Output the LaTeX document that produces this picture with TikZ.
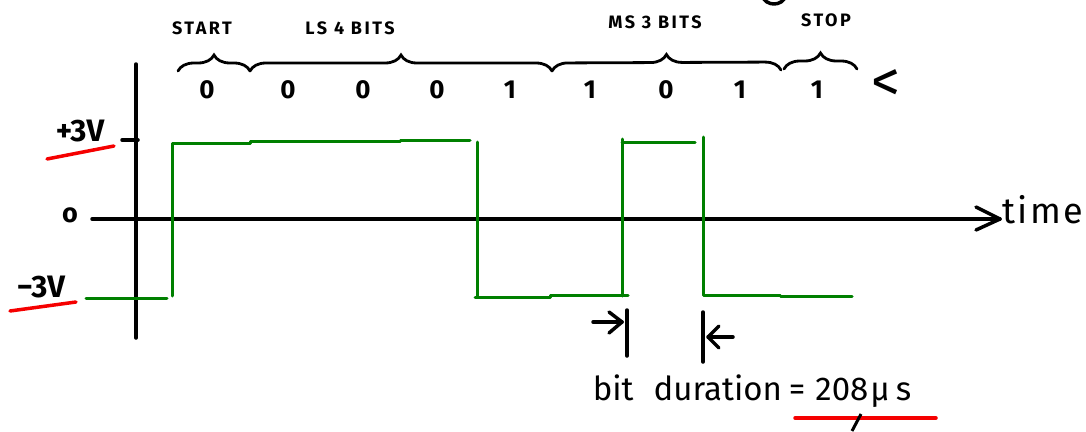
\documentclass[tikz,border=0pt]{standalone}
\usepackage{fontspec}
\setmainfont{Fira Sans}
\usetikzlibrary{decorations.pathreplacing}
\definecolor{sig}{RGB}{0,128,0}
\definecolor{redmark}{RGB}{245,0,0}

\begin{document}
\begin{tikzpicture}[x=1pt,y=-1pt,
  ink/.style={line width=3.5pt,line cap=round,line join=round},
  wave/.style={draw=sig,line width=3pt,line cap=round,line join=round},
  hl/.style={draw=redmark,line width=3.5pt,line cap=round},
  bracegrp/.style={draw,line width=2.8pt,line cap=round,decorate,
    decoration={brace,amplitude=16pt}},
  bit/.style={font=\fontsize{26}{26}\selectfont\bfseries},
  grp/.style={font=\fontsize{18}{18}\selectfont\bfseries\addfontfeature{LetterSpace=14}},
  lvl/.style={font=\fontsize{31}{31}\selectfont\bfseries},
  big/.style={font=\fontsize{33}{33}\selectfont},
]
\useasboundingbox (0,0) rectangle (1086,431);

% axes
\coordinate (vtop) at (136,64);
\coordinate (vbot) at (136,338);
\coordinate (hstart) at (92,219);
\coordinate (hend) at (1000,219);
\draw[ink] (vtop) -- (vbot);
\draw[ink] (hstart) -- (hend);
\draw[ink] (hend) ++(-24,-12) -- (hend) -- ++(-24,11);
\coordinate (tickL) at (122,140);
\coordinate (tickR) at (138,140);
\draw[ink] (tickL) -- (tickR);
\node[big, anchor=west, font=\fontsize{36}{36}\selectfont\addfontfeature{LetterSpace=6}]
  (time) at (999,210) {time};

% level labels
\node[lvl] (plus) at (80,131) {+3V};
\node[lvl] (minus) at (41,287) {\textminus3V};
\node[font=\fontsize{27}{27}\selectfont\bfseries] (zero) at (70,215) {o};
\coordinate (pu1) at (47,159);
\coordinate (pu2) at (114,146);
\coordinate (mu1) at (10,311);
\coordinate (mu2) at (76,302);
\draw[hl] (pu1) -- (pu2);
\draw[hl] (mu1) -- (mu2);

% the transmitted frame
\coordinate (w0) at (86,298);
\coordinate (w1) at (167,298);
\draw[wave] (w0) -- (w1);
\coordinate (a0) at (172,296);
\draw[wave] (a0) -- (172,143) -- (250,143) -- (250,141.5) -- (400,141.5)
  -- (400,140.5) -- (470,140.5);
\coordinate (b0) at (477,142);
\draw[wave] (b0) -- (477,297);
\draw[wave] (475,297) -- (550,297) -- (550,295.5) -- (628,295.5);
\coordinate (c0) at (622,296);
\draw[wave] (c0) -- (622,139);
\draw[wave] (622,142) -- (695,142);
\coordinate (d0) at (703,137);
\draw[wave] (d0) -- (703,295) -- (780,295) -- (780,296.5) -- (852,296.5);

% bit values
\node[bit] (b1) at (207,90) {0};
\node[bit] (b2) at (288,90) {0};
\node[bit] (b3) at (363,90) {0};
\node[bit] (b4) at (437,90) {0};
\node[bit] (b5) at (510,90) {1};
\node[bit] (b6) at (590,90) {1};
\node[bit] (b7) at (666,90) {0};
\node[bit] (b8) at (740,90) {1};
\node[bit] (b9) at (817,90) {1};
\node[font=\fontsize{58}{58}\selectfont] (lt) at (886,86) {<};

% braces and group names
\coordinate (k0) at (178,71);
\coordinate (k1) at (250,71);
\coordinate (k2) at (552,71);
\coordinate (k3) at (781,70);
\coordinate (k4) at (784,69);
\coordinate (k5) at (857,69);
\draw[bracegrp] (k0) -- (k1);
\draw[bracegrp] (k1) -- (k2);
\draw[bracegrp] (k2) -- (k3);
\draw[bracegrp] (k4) -- (k5);
\node[grp] (gStart) at (202,28) {START};
\node[grp] (gLS) at (350,28) {LS 4 BITS};
\node[grp] (gMS) at (655,22) {MS 3 BITS};
\node[grp] (gStop) at (826,20) {STOP};

% partly visible mark at the top edge
\draw[ink] (762,-5) .. controls (765,7) and (783,7) .. (786,-5);

% bit duration markers
\coordinate (m1t) at (627,310);
\coordinate (m1b) at (627,356);
\coordinate (m2t) at (703,312);
\coordinate (m2b) at (703,362);
\draw[ink] (m1t) -- (m1b);
\draw[ink] (m2t) -- (m2b);
\coordinate (r1) at (622,322);
\coordinate (r2) at (708,337);
\draw[ink] (593,322) -- (r1);
\draw[ink] (r1) ++(-13,-10) -- (r1) -- ++(-13,11);
\draw[ink] (733,337) -- (r2);
\draw[ink] (r2) ++(11,-11) -- (r2) -- ++(11,11);

\node[big] (dur) at (752,391) {bit\hspace{20pt}duration\hspace{7pt}=\hspace{10pt}208\hspace{2pt}µ\hspace{6pt}s};
\coordinate (du1) at (795,418);
\coordinate (du2) at (936,418);
\draw[hl] (du1) -- (du2);
\coordinate (sl1) at (852,431);
\coordinate (sl2) at (861,414);
\draw[line width=3pt] (sl1) -- (sl2);
\end{tikzpicture}
\end{document}
